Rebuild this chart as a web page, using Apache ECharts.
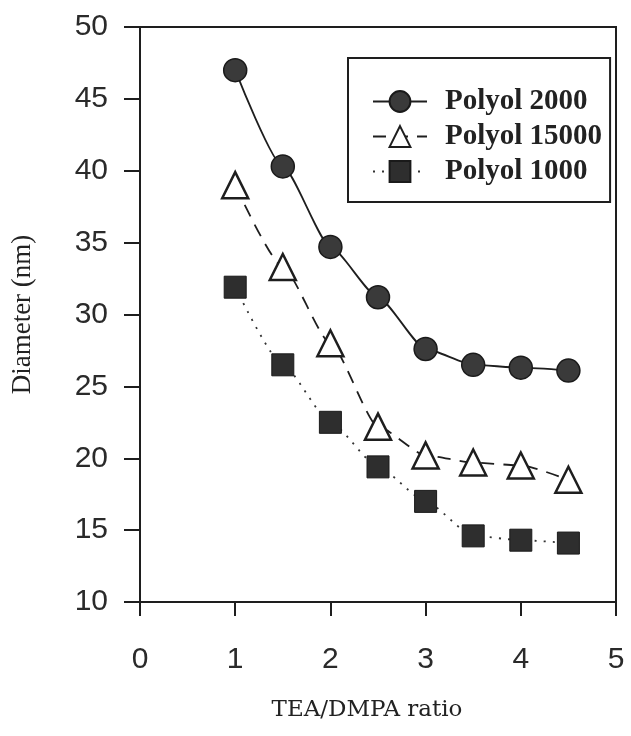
<!DOCTYPE html>
<html>
<head>
<meta charset="utf-8">
<script src="https://cdn.jsdelivr.net/npm/echarts@6/dist/echarts.min.js"></script>
<style>
  html, body { margin: 0; padding: 0; background: #fff; }
  #chart { width: 631px; height: 736px; }
</style>
</head>
<body>
<div id="chart"></div>
<script>
// TEA/DMPA ratio values (x)
const ratios = [1, 1.5, 2, 2.5, 3, 3.5, 4, 4.5];
// Particle diameter (nm) for each polyol
const polyol2000 = [47.0, 40.3, 34.7, 31.2, 27.6, 26.5, 26.3, 26.1];
const polyol15000 = [39.0, 33.3, 28.0, 22.2, 20.2, 19.7, 19.5, 18.5];
const polyol1000 = [31.9, 26.5, 22.5, 19.4, 17.0, 14.6, 14.3, 14.1];
const seriesNames = ['Polyol 2000', 'Polyol 15000', 'Polyol 1000'];

const pairs = ys => ratios.map((x, i) => [x, ys[i]]);

const ink = '#1e1e1e';
const tickFont = "'Liberation Sans', Arial, sans-serif";
const chart = echarts.init(document.getElementById('chart'), null, { renderer: 'canvas' });

chart.setOption({
  backgroundColor: '#ffffff',
  animation: false,
  grid: {
    left: 140, right: 15, top: 27, bottom: 134,
    show: true, borderColor: ink, borderWidth: 2, backgroundColor: 'transparent'
  },
  legend: {
    orient: 'vertical',
    left: 348, top: 58,
    padding: [29, 8, 16, 24],
    itemWidth: 54, itemHeight: 26, itemGap: 6,
    borderColor: ink, borderWidth: 2,
    data: seriesNames,
    textStyle: {
      fontFamily: 'Liberation Serif', fontSize: 29, fontWeight: 'bold', color: '#222',
      padding: [0, 0, 0, 13]
    }
  },
  xAxis: {
    type: 'value', min: 0, max: 5, interval: 1,
    name: 'TEA/DMPA ratio', nameLocation: 'middle', nameGap: 97,
    nameTextStyle: { fontFamily: 'DejaVu Serif', fontSize: 23, color: '#222', padding: [0, 22, 0, 0] },
    axisLine: { show: true, onZero: false, lineStyle: { color: ink, width: 2 } },
    axisTick: { show: true, inside: false, length: 14, lineStyle: { color: ink, width: 2 } },
    axisLabel: { margin: 43, fontFamily: tickFont, fontSize: 30, color: '#2a2a2a' },
    splitLine: { show: false }
  },
  yAxis: {
    type: 'value', min: 10, max: 50, interval: 5,
    name: 'Diameter (nm)', nameLocation: 'middle', nameGap: 104,
    nameTextStyle: { fontFamily: 'Liberation Serif', fontSize: 27, color: '#222' },
    axisLine: { show: true, onZero: false, lineStyle: { color: ink, width: 2 } },
    axisTick: { show: true, inside: false, length: 16, lineStyle: { color: ink, width: 2 } },
    axisLabel: { margin: 32, fontFamily: tickFont, fontSize: 30, color: '#2a2a2a' },
    splitLine: { show: false }
  },
  series: [
    {
      name: seriesNames[0], type: 'line', data: pairs(polyol2000),
      smooth: 0.2, smoothMonotone: 'x',
      symbol: 'circle', symbolSize: 23,
      itemStyle: { color: '#3a3a3a', borderColor: '#1a1a1a', borderWidth: 1.5 },
      lineStyle: { color: ink, width: 1.8, type: 'solid' },
      z: 3
    },
    {
      name: seriesNames[1], type: 'line', data: pairs(polyol15000),
      smooth: 0.2, smoothMonotone: 'x',
      symbol: 'triangle', symbolSize: 26,
      itemStyle: { color: '#ffffff', borderColor: ink, borderWidth: 2.5 },
      lineStyle: { color: ink, width: 1.8, type: [13, 9] },
      z: 2
    },
    {
      name: seriesNames[2], type: 'line', data: pairs(polyol1000),
      smooth: 0.2, smoothMonotone: 'x',
      symbol: 'rect', symbolSize: 22,
      itemStyle: { color: '#2e2e2e', borderColor: '#1a1a1a', borderWidth: 1 },
      lineStyle: { color: '#333', width: 1.8, type: [2, 7] },
      z: 2
    }
  ]
});
</script>
</body>
</html>
